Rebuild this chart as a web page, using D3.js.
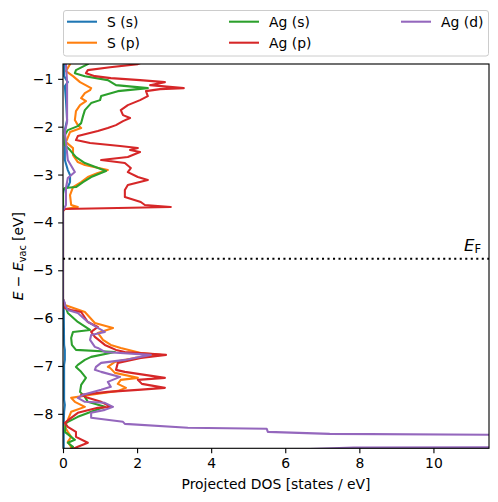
<!DOCTYPE html>
<html><head><meta charset="utf-8">
<script src="https://cdn.jsdelivr.net/npm/d3@7"></script>
<style>body{margin:0;background:#fff}svg{display:block;font-family:"DejaVu Sans",sans-serif}</style>
</head><body><svg id="c" width="498" height="502"></svg>
<script>
// ---- data: each point is [energy (eV), projected DOS (states/eV)] ----
const seriesNames = ["S (s)", "S (p)", "Ag (s)", "Ag (p)", "Ag (d)"];
const seriesColors = ["#1f77b4", "#ff7f0e", "#2ca02c", "#d62728", "#9467bd"];

const dosSs = [
  [-0.60,0.03],[-0.693,0.03],[-0.944,0.03],[-1.069,0.13],[-1.153,0.05],[-1.445,0.08],[-1.862,0.11],
  [-2.071,0.05],[-2.697,0.05],[-2.906,0.13],[-3.010,0.19],[-3.157,0.19],[-3.261,0.13],[-3.323,0.02],
  [-3.40,0],[-5.60,0],[-5.80,0.02],[-6.560,0.03],[-6.664,0.05],[-6.873,0.05],[-6.977,0.03],
  [-7.708,0.03],[-7.812,0.05],[-7.958,0.03],[-8.20,0.02],[-8.78,0.02]
];
const dosSp = [
  [-0.60,0.25],[-0.693,0.19],[-0.839,0.08],[-0.944,0.27],[-1.069,0.46],[-1.194,0.76],[-1.236,0.73],
  [-1.299,0.59],[-1.403,0.49],[-1.466,0.62],[-1.549,0.46],[-1.674,0.35],[-1.862,0.32],[-1.967,0.40],
  [-2.029,0.49],[-2.113,0.19],[-2.322,0.08],[-2.447,0.27],[-2.593,0.27],[-2.739,0.40],[-2.802,0.59],
  [-2.906,1.21],[-2.969,0.94],[-3.052,0.67],[-3.157,0.49],[-3.261,0.27],[-3.428,0.19],[-3.636,0.22],
  [-3.678,0.40],[-3.720,0.05],[-3.76,0],[-5.60,0],
  [-5.725,0.05],[-5.871,0.59],[-6.101,0.86],[-6.205,1.35],[-6.309,0.94],[-6.455,1.08],[-6.560,1.29],
  [-6.622,1.56],[-6.727,2.10],[-6.768,2.64],[-6.831,1.94],[-6.914,1.40],[-7.019,1.21],[-7.040,1.27],
  [-7.144,1.40],[-7.248,2.02],[-7.290,1.56],[-7.374,1.48],[-7.457,1.70],[-7.520,1.48],[-7.603,0.76],
  [-7.666,0.22],[-7.749,0.32],[-7.854,0.59],[-7.958,0.22],[-8.125,0.13],[-8.271,0.05],[-8.376,0.13],
  [-8.480,0.22],[-8.585,0.13],[-8.689,0.22],[-8.78,0.19]
];
const dosAgs = [
  [-0.60,0.75],[-0.693,0.67],[-0.818,0.35],[-0.881,0.32],[-0.944,0.59],[-1.027,1.21],[-1.132,1.43],
  [-1.194,2.29],[-1.257,1.48],[-1.361,1.03],[-1.445,1.00],[-1.507,0.76],[-1.653,0.59],[-1.779,0.54],
  [-1.925,0.49],[-1.988,0.40],[-2.071,0.13],[-2.175,0.05],[-2.384,0.05],[-2.489,0.19],[-2.635,0.35],
  [-2.760,0.59],[-2.927,1.16],[-3.052,0.76],[-3.157,0.54],[-3.261,0.35],[-3.282,0.05],[-3.32,0],
  [-5.60,0],
  [-5.725,0.05],[-5.892,0.13],[-6.080,0.40],[-6.247,0.73],[-6.288,0.27],[-6.414,0.22],[-6.560,0.24],
  [-6.664,0.35],[-6.706,1.40],[-6.810,0.76],[-6.873,0.59],[-6.977,0.40],[-7.019,0.35],[-7.123,0.49],
  [-7.248,0.62],[-7.395,0.49],[-7.541,0.46],[-7.645,0.59],[-7.749,0.67],[-7.854,1.13],[-7.958,0.76],
  [-8.062,0.40],[-8.188,0.08],[-8.376,0.05],[-8.480,0.22],[-8.543,0.32],[-8.605,0.13],[-8.689,0.27],
  [-8.78,0.19]
];
const dosAgp = [
  [-0.60,2.30],[-0.693,2.02],[-0.756,1.27],[-0.818,0.67],[-0.881,0.62],[-0.944,0.86],[-0.985,1.29],
  [-1.027,2.08],[-1.069,2.75],[-1.132,2.35],[-1.194,3.26],[-1.215,2.62],[-1.257,2.24],[-1.361,2.29],
  [-1.445,2.08],[-1.549,1.75],[-1.653,1.56],[-1.758,1.62],[-1.820,1.81],[-1.883,1.62],[-1.967,1.43],
  [-2.029,1.21],[-2.092,0.94],[-2.196,0.40],[-2.280,0.35],[-2.342,0.73],[-2.405,1.54],[-2.447,2.02],
  [-2.489,1.81],[-2.530,2.08],[-2.635,1.75],[-2.697,1.03],[-2.760,1.67],[-2.864,1.83],[-2.948,1.75],
  [-3.052,2.02],[-3.115,2.29],[-3.219,1.75],[-3.323,1.67],[-3.470,1.67],[-3.574,2.10],[-3.636,2.21],
  [-3.678,2.91],[-3.720,0.05],[-3.76,0],[-5.60,0],
  [-5.787,0.05],[-5.830,0.22],[-5.871,0.49],[-6.080,0.67],[-6.184,0.94],[-6.288,0.76],[-6.393,0.86],
  [-6.560,1.13],[-6.664,1.43],[-6.706,1.67],[-6.768,2.78],[-6.831,2.10],[-6.935,1.48],[-7.081,1.43],
  [-7.123,1.67],[-7.248,2.75],[-7.290,2.02],[-7.374,2.13],[-7.457,2.75],[-7.499,2.02],[-7.541,1.21],
  [-7.603,0.49],[-7.666,0.67],[-7.749,1.03],[-7.854,1.29],[-7.875,0.94],[-7.979,0.40],[-8.083,0.22],
  [-8.188,0.05],[-8.271,0.13],[-8.376,0.35],[-8.480,0.35],[-8.605,0.67],[-8.689,0.40],[-8.78,0.13]
];
const dosAgd = [
  [-0.60,0.08],[-0.693,0.08],[-1.069,0.11],[-1.445,0.11],[-1.904,0.11],[-2.113,0.05],[-2.322,0.08],
  [-2.697,0.13],[-2.948,0.32],[-3.073,0.13],[-3.282,0.08],[-3.636,0.08],[-3.720,0.02],[-3.76,0],
  [-5.60,0],
  [-5.683,0.05],[-5.725,0.05],[-5.830,0.13],[-5.892,0.40],[-6.080,0.67],[-6.205,0.94],[-6.288,1.13],
  [-6.351,0.76],[-6.455,0.73],[-6.601,0.86],[-6.622,0.94],[-6.706,1.13],[-6.768,2.37],[-6.873,1.67],
  [-6.935,1.03],[-7.019,0.89],[-7.081,0.86],[-7.123,1.03],[-7.228,1.54],[-7.332,1.21],[-7.436,1.29],
  [-7.499,1.03],[-7.603,0.54],[-7.666,0.40],[-7.749,0.59],[-7.770,1.13],[-7.854,1.35],[-7.917,1.13],
  [-7.979,0.76],[-8.083,0.76],[-8.167,1.62],[-8.209,1.67],[-8.292,3.37],[-8.313,5.50],[-8.376,5.53],
  [-8.418,7.20],[-8.438,11.49],[-8.45,14.0],[-8.60,16.0],[-8.700,14.0],[-8.703,7.85],[-8.78,5.0]
];
const seriesData = [dosSs, dosSp, dosAgs, dosAgp, dosAgd];

const xTicks = [0, 2, 4, 6, 8, 10];
const yTicks = [-1, -2, -3, -4, -5, -6, -7, -8];
const xDomain = [0, 11.5];
const yDomain = [-8.72, -0.69];
const fermiLevel = -4.76;

// ---- layout ----
const L = 63, R = 489, T = 64, B = 448.3;
const FS = 13.9;
const LW = 2.08;      // 1.5 pt
const SW = 1.11;      // 0.8 pt
const TL = 4.86;      // 3.5 pt
const svg = d3.select("#c");
const x = d3.scaleLinear().domain(xDomain).range([L, R]);
const y = d3.scaleLinear().domain(yDomain).range([B, T]);
const fmt = v => (v < 0 ? "\u2212" + Math.abs(v) : String(v));

svg.append("defs").append("clipPath").attr("id", "clip")
  .append("rect").attr("x", L).attr("y", T).attr("width", R - L).attr("height", B - T);

const plot = svg.append("g").attr("clip-path", "url(#clip)");
const line = d3.line().x(d => x(d[1])).y(d => y(d[0]));
seriesData.forEach((s, i) => {
  plot.append("path").datum(s).attr("d", line)
    .attr("fill", "none").attr("stroke", seriesColors[i]).attr("stroke-width", LW)
    .attr("stroke-linejoin", "round").attr("stroke-linecap", "square");
});

// Fermi level
plot.append("line").attr("x1", L).attr("x2", R).attr("y1", y(fermiLevel)).attr("y2", y(fermiLevel))
  .attr("stroke", "#000").attr("stroke-width", LW).attr("stroke-dasharray", "2.08,3.43");
const ef = svg.append("text").attr("x", 464).attr("y", y(fermiLevel) - 8)
  .attr("font-size", 16.5).attr("fill", "#000");
ef.append("tspan").attr("font-style", "italic").text("E");
ef.append("tspan").attr("font-size", 11.5).attr("dy", 2.5).text("F");

// axes
const xAxis = d3.axisBottom(x).tickValues(xTicks).tickSize(TL).tickPadding(TL).tickFormat(fmt);
const yAxis = d3.axisLeft(y).tickValues(yTicks).tickSize(TL).tickPadding(TL).tickFormat(fmt);
const gx = svg.append("g").attr("transform", `translate(0,${B})`).call(xAxis);
const gy = svg.append("g").attr("transform", `translate(${L},0)`).call(yAxis);
[gx, gy].forEach(g => {
  g.select(".domain").remove();
  g.selectAll(".tick line").attr("stroke", "#000").attr("stroke-width", SW);
  g.selectAll(".tick text").attr("font-size", FS).attr("font-family", "DejaVu Sans").attr("fill", "#000");
});
svg.append("rect").attr("x", L).attr("y", T).attr("width", R - L).attr("height", B - T)
  .attr("fill", "none").attr("stroke", "#000").attr("stroke-width", SW);

// axis labels
svg.append("text").attr("x", (L + R) / 2).attr("y", 489).attr("text-anchor", "middle")
  .attr("font-size", FS).attr("fill", "#000").text("Projected DOS [states / eV]");
const yl = svg.append("text").attr("transform", `translate(23,${(T + B) / 2}) rotate(-90)`)
  .attr("text-anchor", "middle").attr("font-size", FS).attr("fill", "#000");
yl.append("tspan").attr("font-style", "italic").text("E");
yl.append("tspan").text(" \u2212 ");
yl.append("tspan").attr("font-style", "italic").text("E");
yl.append("tspan").attr("font-size", 9.7).attr("dy", 2.5).text("vac");
yl.append("tspan").attr("dy", -2.5).text(" [eV]");

// legend
const lg = svg.append("g");
lg.append("rect").attr("x", 63.5).attr("y", 10.5).attr("width", 425).attr("height", 45.5)
  .attr("rx", 2.5).attr("fill", "#fff").attr("fill-opacity", 0.8)
  .attr("stroke", "#cccccc").attr("stroke-width", 1);
const colX = [67, 229, 401];
const rowY = [21.7, 42.7];
seriesNames.forEach((n, i) => {
  const cx = colX[Math.floor(i / 2)], cy = rowY[i % 2];
  lg.append("line").attr("x1", cx).attr("x2", cx + 30).attr("y1", cy).attr("y2", cy)
    .attr("stroke", seriesColors[i]).attr("stroke-width", LW);
  lg.append("text").attr("x", cx + 40).attr("y", cy + 5).attr("font-size", FS).attr("fill", "#000").text(n);
});
</script></body></html>
